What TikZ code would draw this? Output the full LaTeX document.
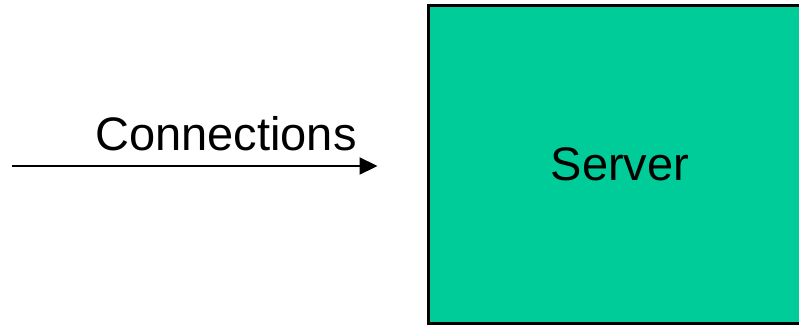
\documentclass[tikz,border=0pt]{standalone}
\usepackage{fontspec}
\setmainfont{Liberation Sans}
\usepackage{tikz}
\usetikzlibrary{arrows.meta,positioning}
\definecolor{serverfill}{HTML}{00CC99}
\tikzset{
  line/.style = {-{Triangle[length=18pt,width=17pt]}, line width=2.2pt},
  srvbox/.style = {draw, line width=3pt, fill=serverfill, minimum width=384pt, minimum height=318pt, inner sep=0pt},
  lbl/.style = {font=\fontsize{47}{56}\selectfont, inner sep=0pt},
}
\begin{document}
\begin{tikzpicture}[x=1pt,y=-1pt]
  \useasboundingbox (0,0) rectangle (799,324);
  \clip (0,0) rectangle (799,324);
  \node[srvbox, lbl] (server) at (620,164) {Server};
  \coordinate (src) at (12,166);
  \node[lbl] (conn) at (226,134) {Connections};
  \draw[line, shorten >=49pt] (src) -- (server.west |- src);
\end{tikzpicture}
\end{document}
